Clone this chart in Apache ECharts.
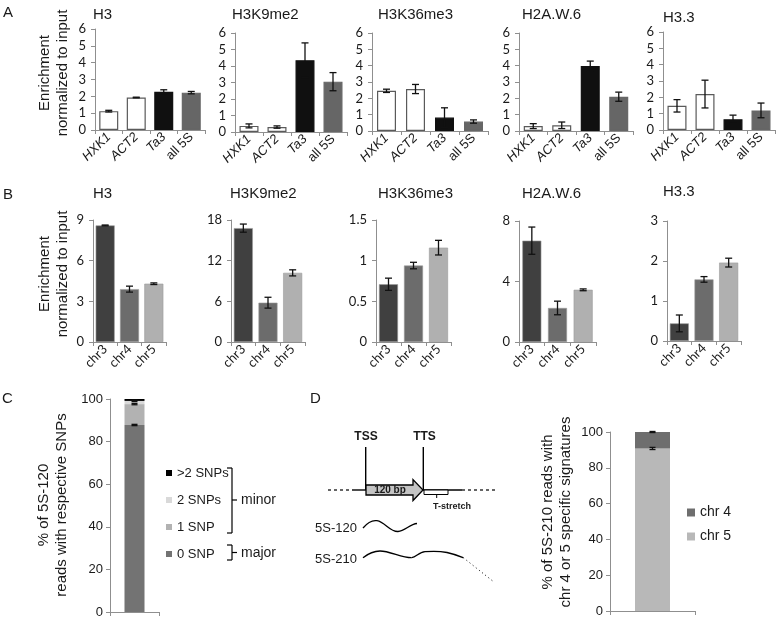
<!DOCTYPE html>
<html><head><meta charset="utf-8">
<script src="https://cdn.jsdelivr.net/npm/echarts@6/dist/echarts.min.js"></script>
<style>html,body{margin:0;padding:0;background:#fff}#c{width:779px;height:619px}</style>
</head><body><div id="c"></div>
<script>
// ---------- Panel A data ----------
const aCategories = ['HXK1', 'ACT2', 'Ta3', 'all 5S'];
const aTitles = ['H3', 'H3K9me2', 'H3K36me3', 'H2A.W.6', 'H3.3'];
const aH3 = [1.12, 1.93, 2.27, 2.22];
const aH3Err = [0.05, 0.02, 0.12, 0.07];
const aH3K9me2 = [0.37, 0.30, 4.35, 3.05];
const aH3K9me2Err = [0.12, 0.07, 1.05, 0.55];
const aH3K36me3 = [2.46, 2.57, 0.82, 0.58];
const aH3K36me3Err = [0.10, 0.28, 0.60, 0.10];
const aH2AW6 = [0.30, 0.35, 3.98, 2.10];
const aH2AW6Err = [0.15, 0.20, 0.30, 0.28];
const aH33 = [1.48, 2.20, 0.66, 1.20];
const aH33Err = [0.38, 0.85, 0.25, 0.45];
const aYMax = 6, aYInterval = 1;

// ---------- Panel B data ----------
const bCategories = ['chr3', 'chr4', 'chr5'];
const bTitles = ['H3', 'H3K9me2', 'H3K36me3', 'H2A.W.6', 'H3.3'];
const bH3 = [8.60, 3.90, 4.30];
const bH3Err = [0.03, 0.22, 0.06];
const bH3K9me2 = [16.8, 5.8, 10.2];
const bH3K9me2Err = [0.6, 0.8, 0.45];
const bH3K36me3 = [0.71, 0.94, 1.16];
const bH3K36me3Err = [0.075, 0.04, 0.09];
const bH2AW6 = [6.70, 2.25, 3.45];
const bH2AW6Err = [0.90, 0.45, 0.06];
const bH33 = [0.44, 1.54, 1.96];
const bH33Err = [0.21, 0.07, 0.11];
const bYMax = [9, 18, 1.5, 8, 3];
const bYInterval = [3, 6, 0.5, 4, 1];

// ---------- Panel C data ----------
const cCategory = ['5S-120'];
const cNames = ['0 SNP', '1 SNP', '2 SNPs', '>2 SNPs'];
const cValues = [87.8, 9.8, 1.5, 0.9];
const cErr = [0.3, 0.3, 0.3, 0.2];
const cLegendOrder = ['>2 SNPs', '2 SNPs', '1 SNP', '0 SNP'];

// ---------- Panel D data ----------
const dCategory = ['5S-210'];
const dNames = ['chr 5', 'chr 4'];
const dValues = [90.8, 9.2];
const dErr = [0.6, 0.3];
const dLegendOrder = ['chr 4', 'chr 5'];
const cdYMax = 100, cdYInterval = 20;

// ---------- styling / layout ----------
const AF = "'Liberation Sans', Arial, sans-serif";
const BF = "Lato, 'Liberation Sans', sans-serif";
const axisGrey = '#8f8f8f';
const aColors = ['#ffffff', '#ffffff', '#101010', '#666666'];
const aBorders = ['#5a5a5a', '#5a5a5a', '#101010', '#666666'];
const bColors = ['#404040', '#6c6c6c', '#b0b0b0'];
const cColors = ['#737373', '#b2b2b2', '#d9d9d9', '#000000'];
const dColors = ['#b8b8b8', '#6e6e6e'];
const aGrids = [[95, 29, 110, 101], [235, 33, 112, 99], [372, 33, 116, 98], [519, 33, 114, 98], [663, 32, 112, 98]];
const bGrids = [[93, 220, 73, 122], [231, 220, 74, 122], [376, 220, 75, 122], [519, 221, 77, 121], [667, 221, 74, 120]];

const aData = [aH3, aH3K9me2, aH3K36me3, aH2AW6, aH33];
const aErrs = [aH3Err, aH3K9me2Err, aH3K36me3Err, aH2AW6Err, aH33Err];
const bData = [bH3, bH3K9me2, bH3K36me3, bH2AW6, bH33];
const bErrs = [bH3Err, bH3K9me2Err, bH3K36me3Err, bH2AW6Err, bH33Err];

function errSeries(idx, vals, errs, cap) {
  return {
    type: 'custom', xAxisIndex: idx, yAxisIndex: idx, silent: true, z: 5,
    data: vals.map((v, i) => [i, v, errs[i]]),
    encode: { x: 0, y: 1 },
    renderItem: (params, api) => {
      const i = api.value(0), v = api.value(1), e = api.value(2);
      const hi = api.coord([i, v + e]), lo = api.coord([i, v - e]);
      const x = hi[0];
      const st = { stroke: '#111', lineWidth: 1.3 };
      return { type: 'group', children: [
        { type: 'line', shape: { x1: x, y1: hi[1], x2: x, y2: lo[1] }, style: st },
        { type: 'line', shape: { x1: x - cap, y1: hi[1], x2: x + cap, y2: hi[1] }, style: st },
        { type: 'line', shape: { x1: x - cap, y1: lo[1], x2: x + cap, y2: lo[1] }, style: st }
      ] };
    }
  };
}

const grid = [], xAxis = [], yAxis = [], series = [];
let gi = 0;

// Panel A
aData.forEach((vals, k) => {
  const g = aGrids[k];
  grid.push({ left: g[0], top: g[1], width: g[2], height: g[3] });
  xAxis.push({
    type: 'category', gridIndex: gi, data: aCategories,
    axisLine: { lineStyle: { color: axisGrey, width: 1 } },
    axisTick: { show: true, length: 4, lineStyle: { color: axisGrey } },
    axisLabel: {
      rotate: 45, margin: 5, fontSize: 13, fontFamily: AF, color: '#1a1a1a', interval: 0,
      formatter: v => v === 'all 5S' ? v : '{i|' + v + '}',
      rich: { i: { fontStyle: 'italic', fontSize: 13, fontFamily: AF, color: '#1a1a1a' } }
    }
  });
  yAxis.push({
    type: 'value', gridIndex: gi, min: 0, max: aYMax, interval: aYInterval,
    axisLine: { show: true, lineStyle: { color: axisGrey } },
    axisTick: { show: true, length: 4, lineStyle: { color: axisGrey } },
    splitLine: { show: false },
    axisLabel: { fontSize: 13, fontFamily: BF, color: '#1a1a1a', margin: 9 }
  });
  series.push({
    type: 'bar', xAxisIndex: gi, yAxisIndex: gi, barWidth: 19,
    data: vals.map((v, i) => ({ value: v, itemStyle: { color: aColors[i], borderColor: aBorders[i], borderWidth: 1.2 } }))
  });
  series.push(errSeries(gi, vals, aErrs[k], 3.5));
  gi++;
});

// Panel B
bData.forEach((vals, k) => {
  const g = bGrids[k];
  grid.push({ left: g[0], top: g[1], width: g[2], height: g[3] });
  xAxis.push({
    type: 'category', gridIndex: gi, data: bCategories,
    axisLine: { lineStyle: { color: axisGrey } },
    axisTick: { show: true, length: 4, lineStyle: { color: axisGrey } },
    axisLabel: { rotate: 45, margin: 5, fontSize: 13, fontFamily: BF, color: '#1a1a1a', interval: 0 }
  });
  yAxis.push({
    type: 'value', gridIndex: gi, min: 0, max: bYMax[k], interval: bYInterval[k],
    axisLine: { show: true, lineStyle: { color: axisGrey } },
    axisTick: { show: true, length: 4, lineStyle: { color: axisGrey } },
    splitLine: { show: false },
    axisLabel: { fontSize: 13, fontFamily: BF, color: '#1a1a1a', margin: 9 }
  });
  series.push({
    type: 'bar', xAxisIndex: gi, yAxisIndex: gi, barWidth: 19,
    data: vals.map((v, i) => ({ value: v, itemStyle: { color: bColors[i], borderColor: '#9a9a9a', borderWidth: 0.6 } }))
  });
  series.push(errSeries(gi, vals, bErrs[k], 3.5));
  gi++;
});

// Panel C
grid.push({ left: 110, top: 399, width: 49, height: 213 });
xAxis.push({
  type: 'category', gridIndex: gi, data: cCategory,
  axisLine: { lineStyle: { color: axisGrey } },
  axisTick: { show: true, length: 4, lineStyle: { color: axisGrey } },
  axisLabel: { show: false }
});
yAxis.push({
  type: 'value', gridIndex: gi, min: 0, max: cdYMax, interval: cdYInterval,
  axisLine: { show: true, lineStyle: { color: axisGrey } },
  axisTick: { show: true, length: 4, lineStyle: { color: axisGrey } },
  splitLine: { show: false },
  axisLabel: { fontSize: 13, fontFamily: AF, color: '#1a1a1a', margin: 7 }
});
let cum = 0;
const cCum = [];
cNames.forEach((n, i) => {
  series.push({ type: 'bar', name: n, stack: 'c', xAxisIndex: gi, yAxisIndex: gi, barWidth: 20,
    itemStyle: { color: cColors[i] }, data: [cValues[i]] });
  cum += cValues[i];
  cCum.push(cum);
});
series.push(errSeries(gi, [cCum[0]], [cErr[0]], 3));
series.push(errSeries(gi, [cCum[1]], [cErr[1]], 3));
series.push(errSeries(gi, [cCum[2]], [cErr[2]], 3));
gi++;

// Panel D
grid.push({ left: 610, top: 432, width: 85, height: 179 });
xAxis.push({
  type: 'category', gridIndex: gi, data: dCategory,
  axisLine: { lineStyle: { color: axisGrey } },
  axisTick: { show: true, length: 4, lineStyle: { color: axisGrey } },
  axisLabel: { show: false }
});
yAxis.push({
  type: 'value', gridIndex: gi, min: 0, max: cdYMax, interval: cdYInterval,
  axisLine: { show: true, lineStyle: { color: axisGrey } },
  axisTick: { show: true, length: 4, lineStyle: { color: axisGrey } },
  splitLine: { show: false },
  axisLabel: { fontSize: 13, fontFamily: AF, color: '#1a1a1a', margin: 7 }
});
let dcum = 0;
const dCum = [];
dNames.forEach((n, i) => {
  series.push({ type: 'bar', name: n, stack: 'd', xAxisIndex: gi, yAxisIndex: gi, barWidth: 35,
    itemStyle: { color: dColors[i] }, data: [dValues[i]] });
  dcum += dValues[i];
  dCum.push(dcum);
});
series.push(errSeries(gi, [dCum[0]], [dErr[0]], 3));
series.push(errSeries(gi, [dCum[1]], [dErr[1]], 3));
gi++;

// ---------- texts & schematic ----------
const G = [];
function txt(x, y, text, font, align, extra) {
  G.push(Object.assign({ type: 'text', x: x, y: y, silent: true, style: { text: text, font: font, fill: '#1a1a1a', textAlign: align || 'left', textVerticalAlign: 'middle' } }, extra || {}));
}
function ln(x1, y1, x2, y2, w, dash) {
  const st = { stroke: '#000', lineWidth: w || 1.2 };
  if (dash) st.lineDash = dash;
  G.push({ type: 'line', silent: true, shape: { x1, y1, x2, y2 }, style: st });
}
function bz(p) {
  G.push({ type: 'bezierCurve', silent: true,
    shape: { x1: p[0], y1: p[1], cpx1: p[2], cpy1: p[3], cpx2: p[4], cpy2: p[5], x2: p[6], y2: p[7] },
    style: { fill: null, stroke: '#000', lineWidth: 1.3 } });
}
txt(3, 13, 'A', '15px ' + AF);
txt(3, 195, 'B', '15px ' + AF);
txt(2, 399, 'C', '15px ' + AF);
txt(310, 399, 'D', '15px ' + AF);
const titleXA = [93, 232, 378, 522, 663];
const titleXB = [93, 230, 378, 522, 663];
const titleYA = [15, 15, 15, 15, 18];
aTitles.forEach((t, k) => txt(titleXA[k], titleYA[k], t, '15px ' + AF));
bTitles.forEach((t, k) => txt(titleXB[k], k === 4 ? 192 : 194, t, '15px ' + AF));
// y axis titles
[73, 274].forEach(cy => G.push({ type: 'text', x: 54, y: cy, rotation: Math.PI / 2, silent: true,
  style: { text: 'Enrichment\nnormalized to input', font: '15px ' + AF, fill: '#1a1a1a', textAlign: 'center', textVerticalAlign: 'middle', lineHeight: 18 } }));
G.push({ type: 'text', x: 53, y: 505, rotation: Math.PI / 2, silent: true,
  style: { text: '% of 5S-120\nreads with respective SNPs', font: '15px ' + AF, fill: '#1a1a1a', textAlign: 'center', textVerticalAlign: 'middle', lineHeight: 18 } });
G.push({ type: 'text', x: 557, y: 512, rotation: Math.PI / 2, silent: true,
  style: { text: '% of 5S-210 reads with\nchr 4 or 5 specific signatures', font: '15px ' + AF, fill: '#1a1a1a', textAlign: 'center', textVerticalAlign: 'middle', lineHeight: 18 } });
// brackets in C
ln(232, 468, 232, 533, 1.2); ln(227, 468, 232, 468, 1.2); ln(227, 533, 232, 533, 1.2); ln(232, 500, 237, 500, 1.2);
ln(232, 545, 232, 560, 1.2); ln(227, 545, 232, 545, 1.2); ln(227, 560, 232, 560, 1.2); ln(232, 552.5, 237, 552.5, 1.2);
txt(241, 500, 'minor', '14px ' + AF);
txt(241, 553, 'major', '14px ' + AF);
// schematic D
ln(328, 490, 352, 490, 1.2, [3, 3]);
ln(352, 490, 366, 490, 1.4);
ln(365.7, 447, 365.7, 490, 1.4);
ln(423.3, 447, 423.3, 490, 1.4);
ln(423, 490, 462, 490, 1.4);
ln(462, 490, 495, 490, 1.2, [3, 3]);
G.push({ type: 'polygon', silent: true, shape: { points: [[366, 485], [413, 485], [413, 479.5], [423, 490], [413, 500.5], [413, 495], [366, 495]] },
  style: { fill: '#c4c4c4', stroke: '#000', lineWidth: 1.3 } });
txt(390, 490, '120 bp', 'bold 10px ' + AF, 'center');
G.push({ type: 'rect', silent: true, shape: { x: 424, y: 490, width: 24, height: 4.5 }, style: { fill: '#fff', stroke: '#000', lineWidth: 1 } });
ln(436.7, 494.5, 436.7, 498, 1);
txt(433, 507, 'T-stretch', 'bold 9px ' + AF);
txt(366, 437, 'TSS', 'bold 12px ' + AF, 'center');
txt(424.5, 437, 'TTS', 'bold 12px ' + AF, 'center');
txt(357, 528, '5S-120', '13px ' + AF, 'right');
txt(357, 559, '5S-210', '13px ' + AF, 'right');
bz([363, 528, 368, 522, 373, 520, 377, 520.7]);
bz([377, 520.7, 385, 522, 390, 532, 398, 531.5]);
bz([398, 531.5, 405, 531, 410, 524, 417, 523.5]);
bz([363, 557.7, 369, 553, 374, 551, 380, 551]);
bz([380, 551, 390, 551, 402, 558, 411.7, 557.7]);
bz([411.7, 557.7, 416, 557.5, 419, 552, 425, 551.7]);
bz([425, 551.7, 433, 551, 442, 551.5, 447, 552.5]);
bz([447, 552.5, 454, 554, 459, 556, 463.3, 557.7]);
ln(463.3, 557.7, 492.7, 581, 1, [1, 3]);

const option = {
  animation: false,
  backgroundColor: '#ffffff',
  grid, xAxis, yAxis, series,
  legend: [
    { data: cLegendOrder, orient: 'vertical', left: 161, top: 461, icon: 'rect', itemWidth: 6, itemHeight: 6, itemGap: 13,
      selectedMode: false, textStyle: { fontSize: 13, fontFamily: AF, color: '#1a1a1a', lineHeight: 14 } },
    { data: dLegendOrder, orient: 'vertical', left: 682, top: 500, icon: 'rect', itemWidth: 8, itemHeight: 8, itemGap: 9,
      selectedMode: false, textStyle: { fontSize: 14, fontFamily: AF, color: '#1a1a1a', lineHeight: 15 } }
  ],
  graphic: { elements: G }
};
const chart = echarts.init(document.getElementById('c'), null, { renderer: 'canvas' });
chart.setOption(option);
</script>
</body></html>
